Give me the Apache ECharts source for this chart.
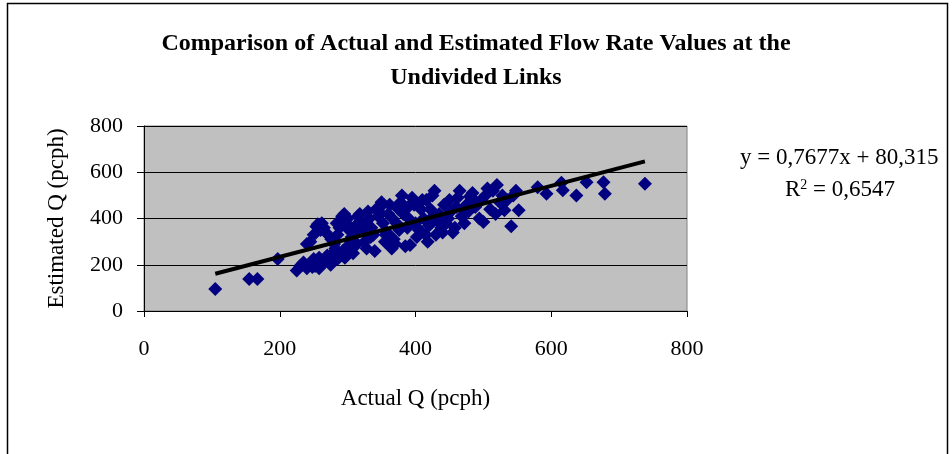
<!DOCTYPE html>
<html>
<head>
<meta charset="utf-8">
<script src="https://cdn.jsdelivr.net/npm/echarts@6/dist/echarts.min.js"></script>
<style>
html, body { margin: 0; padding: 0; background: #fff; }
#chart { width: 952px; height: 454px; }
</style>
</head>
<body>
<div id="chart"></div>
<script>
// actual flow (x) and estimated flow (y), pcph
var actualQ = [105, 155, 167, 197,
	225, 230, 235, 240, 245, 248, 250, 252, 255, 258, 240, 245, 250, 254, 256, 260, 262, 265,
	258, 262, 268, 270, 272, 275, 278, 280, 282, 285, 288, 290, 292, 295, 298, 300,
	285, 290, 293, 296, 300, 302, 305, 308, 310, 312, 315, 318, 320, 322, 325, 328,
	330, 332, 335, 338, 340, 342, 345, 348, 350, 352, 355, 358, 360, 362, 365, 368,
	370, 372, 375, 378, 380, 382, 385, 388, 390, 392, 395, 398, 400, 402, 405, 408,
	410, 412, 415, 418, 420, 422, 425, 428, 430, 432, 435, 438, 440, 442, 445, 448,
	450, 452, 455, 458, 460, 462, 465, 468, 470, 472, 475, 478, 480, 484, 488, 490,
	494, 497, 500, 503, 506, 510, 514, 518, 520, 524, 528, 531, 535, 541, 544, 548, 552,
	580, 593, 615, 617, 637, 652, 677, 679, 738,
	268, 276, 284, 306, 314, 326, 334, 346, 356, 366, 376, 386, 396, 406, 416, 426];
var estimatedQ = [95, 138, 138, 225,
	175, 195, 210, 185, 200, 190, 225, 195, 210, 185, 290, 300, 330, 365, 375, 350, 380, 360,
	230, 205, 215, 240, 225, 200, 250, 290, 270, 330, 360, 390, 410, 420, 380, 400,
	225, 240, 260, 230, 280, 350, 300, 250, 330, 370, 410, 420, 390, 350, 300, 270,
	430, 400, 360, 330, 260, 440, 410, 450, 470, 380, 300, 340, 420, 460, 270, 310,
	290, 380, 440, 470, 500, 420, 280, 360, 400, 285, 490, 460, 380, 320, 350, 440,
	480, 400, 330, 300, 370, 440, 500, 520, 330, 390, 420, 360, 340, 460, 380, 400,
	480, 430, 340, 360, 450, 490, 520, 410, 440, 380, 460, 430, 495, 510, 450, 470,
	400, 480, 385, 500, 530, 440, 520, 420, 545, 470, 500, 436, 480, 367, 500, 520, 436,
	535, 507, 555, 522, 500, 557, 557, 507, 550,
	340, 310, 380, 320, 290, 380, 320, 430, 330, 400, 350, 440, 470, 350, 480, 410];
var xTicks = [0, 200, 400, 600, 800];
var yTicks = [0, 200, 400, 600, 800];
var slope = 0.7677, intercept = 80.315, rSquared = 0.6547;

var points = [];
for (var i = 0; i < actualQ.length; i++) {
	points.push([actualQ[i], estimatedQ[i]]);
}
var xMin = Math.min.apply(null, actualQ);
var xMax = Math.max.apply(null, actualQ);
var trend = [[xMin, slope * xMin + intercept], [xMax, slope * xMax + intercept]];

var serif = '"Liberation Serif", "Times New Roman", serif';
var myChart = echarts.init(document.getElementById('chart'));
var option = {
	animation: false,
	title: {
		text: 'Comparison of Actual and Estimated Flow Rate Values at the\nUndivided Links',
		left: 'center',
		top: 22,
		textStyle: {
			fontFamily: serif,
			fontWeight: 'bold',
			fontSize: 24,
			lineHeight: 34,
			color: '#000'
		}
	},
	grid: {
		left: 144,
		right: 265,
		top: 126,
		bottom: 143,
		show: true,
		backgroundColor: '#c0c0c0',
		borderColor: '#808080',
		borderWidth: 1
	},
	xAxis: {
		type: 'value',
		min: xTicks[0],
		max: xTicks[xTicks.length - 1],
		interval: 200,
		name: 'Actual Q (pcph)',
		nameLocation: 'middle',
		nameGap: 76,
		nameTextStyle: { fontFamily: serif, fontSize: 23, color: '#000' },
		axisLine: { lineStyle: { color: '#000', width: 1 } },
		axisTick: { show: true, length: 6, lineStyle: { color: '#000' } },
		axisLabel: { fontFamily: serif, fontSize: 22, color: '#000', margin: 27 },
		splitLine: { show: false }
	},
	yAxis: {
		type: 'value',
		min: yTicks[0],
		max: yTicks[yTicks.length - 1],
		interval: 200,
		name: 'Estimated Q (pcph)',
		nameLocation: 'middle',
		nameGap: 76,
		nameTextStyle: { fontFamily: serif, fontSize: 23, color: '#000' },
		axisLine: { show: true, lineStyle: { color: '#000', width: 1 } },
		axisTick: { show: true, length: 7, lineStyle: { color: '#000' } },
		axisLabel: { fontFamily: serif, fontSize: 22, color: '#000', margin: 21 },
		splitLine: { show: true, lineStyle: { color: '#000', width: 1 } }
	},
	series: [{
		type: 'scatter',
		data: points,
		symbol: 'diamond',
		symbolSize: 14,
		itemStyle: { color: '#000080', opacity: 1 },
		z: 2
	}, {
		type: 'line',
		data: trend,
		symbol: 'none',
		lineStyle: { color: '#000', width: 4 },
		z: 3
	}],
	graphic: [{
		type: 'rect',
		shape: { x: 7.5, y: 3.5, width: 940, height: 470 },
		style: { fill: 'none', stroke: '#000', lineWidth: 1.5 },
		silent: true
	}, {
		type: 'text',
		left: 740,
		top: 146,
		style: {
			text: 'y = ' + String(slope).replace('.', ',') + 'x + ' + String(intercept).replace('.', ','),
			font: '23px ' + serif,
			fill: '#000'
		}
	}, {
		type: 'text',
		left: 785,
		top: 178,
		style: {
			text: '{b|R}{s|2}{b| = ' + String(rSquared).replace('.', ',') + '}',
			rich: {
				b: { font: '23px ' + serif, fill: '#000', verticalAlign: 'bottom' },
				s: { font: '14px ' + serif, fill: '#000', verticalAlign: 'top', padding: [0, 0, 9, 0] }
			}
		}
	}]
};
myChart.setOption(option);
</script>
</body>
</html>
